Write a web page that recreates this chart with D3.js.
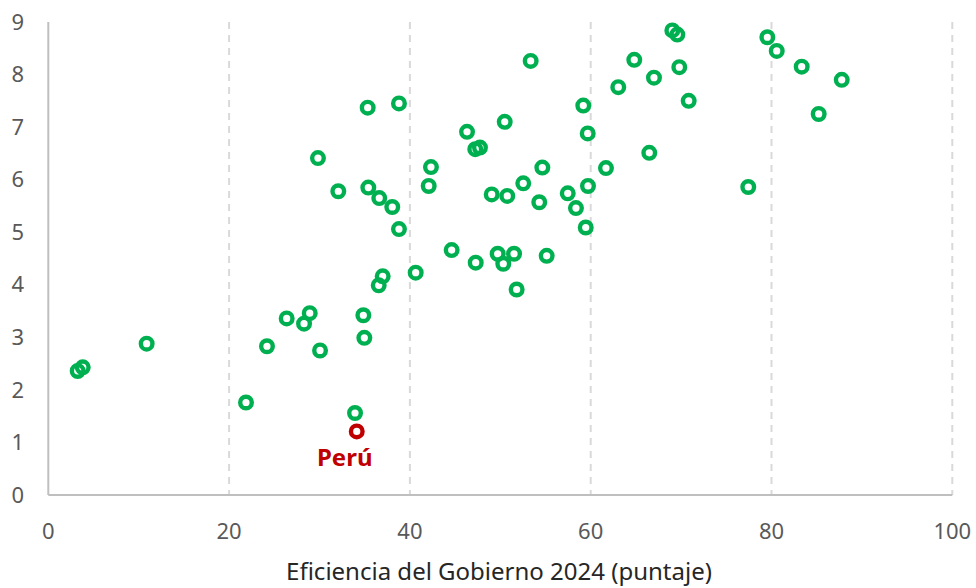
<!DOCTYPE html>
<html>
<head>
<meta charset="utf-8">
<script src="https://cdn.jsdelivr.net/npm/d3@7"></script>
<style>
  body { margin: 0; background: #fff; }
  svg { display: block; font-family: "Segoe UI", "Noto Sans", "Open Sans", sans-serif; }
</style>
</head>
<body>
<svg id="chart" width="976" height="588"></svg>
<script>
// government efficiency score (x) vs second indicator (y), one per country
var efficiency = [3.25, 3.81, 10.88, 21.87, 24.19, 26.37, 28.29, 28.92, 30.06, 29.83,
  32.08, 33.93, 34.85, 34.96, 35.33, 35.40, 36.61, 38.05, 36.55, 36.99,
  38.79, 38.79, 40.64, 42.08, 42.33, 44.62, 46.32, 47.28, 47.23, 47.75,
  49.05, 49.71, 50.49, 50.33, 50.77, 51.52, 51.81, 52.54, 53.36, 54.31,
  54.65, 55.13, 57.46, 58.37, 59.18, 59.67, 59.70, 59.45, 61.69, 63.05,
  64.82, 66.48, 67.00, 69.03, 69.58, 69.80, 70.84, 77.43, 79.54, 80.58,
  83.34, 85.22, 87.77];
var score = [2.36, 2.43, 2.88, 1.76, 2.83, 3.36, 3.26, 3.46, 2.75, 6.41,
  5.78, 1.56, 3.42, 2.99, 7.37, 5.85, 5.65, 5.48, 3.99, 4.16,
  5.06, 7.45, 4.23, 5.88, 6.24, 4.66, 6.91, 4.42, 6.58, 6.61,
  5.72, 4.59, 7.10, 4.40, 5.69, 4.59, 3.91, 5.93, 8.26, 5.57,
  6.23, 4.55, 5.74, 5.46, 7.41, 6.88, 5.88, 5.09, 6.22, 7.76,
  8.28, 6.51, 7.94, 8.84, 8.76, 8.14, 7.50, 5.86, 8.71, 8.45,
  8.15, 7.25, 7.90];
var peru = { name: "Perú", x: 34.12, y: 1.21 };
var xTicks = [0, 20, 40, 60, 80, 100];
var yTicks = [0, 1, 2, 3, 4, 5, 6, 7, 8, 9];
var xTitle = "Eficiencia del Gobierno 2024 (puntaje)";

var svg = d3.select("#chart");
var plotLeft = 48.3, plotRight = 952.3, plotTop = 22, plotBottom = 495;

var x = d3.scaleLinear().domain([0, 100]).range([plotLeft, plotRight]);
var y = d3.scaleLinear().domain([0, 9]).range([plotBottom, plotTop]);

// dashed vertical grid
svg.append("g")
  .selectAll("line")
  .data(xTicks.filter(function (d) { return d > 0; }))
  .enter()
  .append("line")
  .attr("x1", function (d) { return x(d); })
  .attr("x2", function (d) { return x(d); })
  .attr("y1", plotTop)
  .attr("y2", plotBottom)
  .attr("stroke", "#d9d9d9")
  .attr("stroke-width", 2)
  .attr("stroke-dasharray", "7,6");

// axis lines
svg.append("line")
  .attr("x1", plotLeft).attr("x2", plotLeft)
  .attr("y1", plotTop).attr("y2", plotBottom)
  .attr("stroke", "#bfbfbf").attr("stroke-width", 2);
svg.append("line")
  .attr("x1", plotLeft).attr("x2", plotRight)
  .attr("y1", plotBottom).attr("y2", plotBottom)
  .attr("stroke", "#bfbfbf").attr("stroke-width", 2);

// tick labels
svg.append("g")
  .selectAll("text")
  .data(yTicks)
  .enter()
  .append("text")
  .attr("x", 24)
  .attr("y", function (d) { return y(d); })
  .attr("dy", "0.35em")
  .attr("text-anchor", "end")
  .attr("font-size", 22)
  .attr("fill", "#595959")
  .text(function (d) { return d; });

svg.append("g")
  .selectAll("text")
  .data(xTicks)
  .enter()
  .append("text")
  .attr("x", function (d) { return x(d); })
  .attr("y", 531)
  .attr("dy", "0.35em")
  .attr("text-anchor", "middle")
  .attr("font-size", 22)
  .attr("fill", "#595959")
  .text(function (d) { return d; });

svg.append("text")
  .attr("x", 499)
  .attr("y", 580)
  .attr("text-anchor", "middle")
  .attr("font-size", 24)
  .attr("fill", "#262626")
  .text(xTitle);

// country points
svg.append("g")
  .selectAll("circle")
  .data(d3.range(efficiency.length))
  .enter()
  .append("circle")
  .attr("cx", function (i) { return x(efficiency[i]); })
  .attr("cy", function (i) { return y(score[i]); })
  .attr("r", 5.8)
  .attr("fill", "none")
  .attr("stroke", "#00b050")
  .attr("stroke-width", 4.4);

// Peru highlighted
svg.append("circle")
  .attr("cx", x(peru.x))
  .attr("cy", y(peru.y))
  .attr("r", 5.8)
  .attr("fill", "none")
  .attr("stroke", "#c00000")
  .attr("stroke-width", 4.4);

svg.append("text")
  .attr("x", x(peru.x) - 12)
  .attr("y", y(peru.y) + 35)
  .attr("text-anchor", "middle")
  .attr("font-size", 24)
  .attr("font-weight", "bold")
  .attr("fill", "#c00000")
  .text(peru.name);
</script>
</body>
</html>
